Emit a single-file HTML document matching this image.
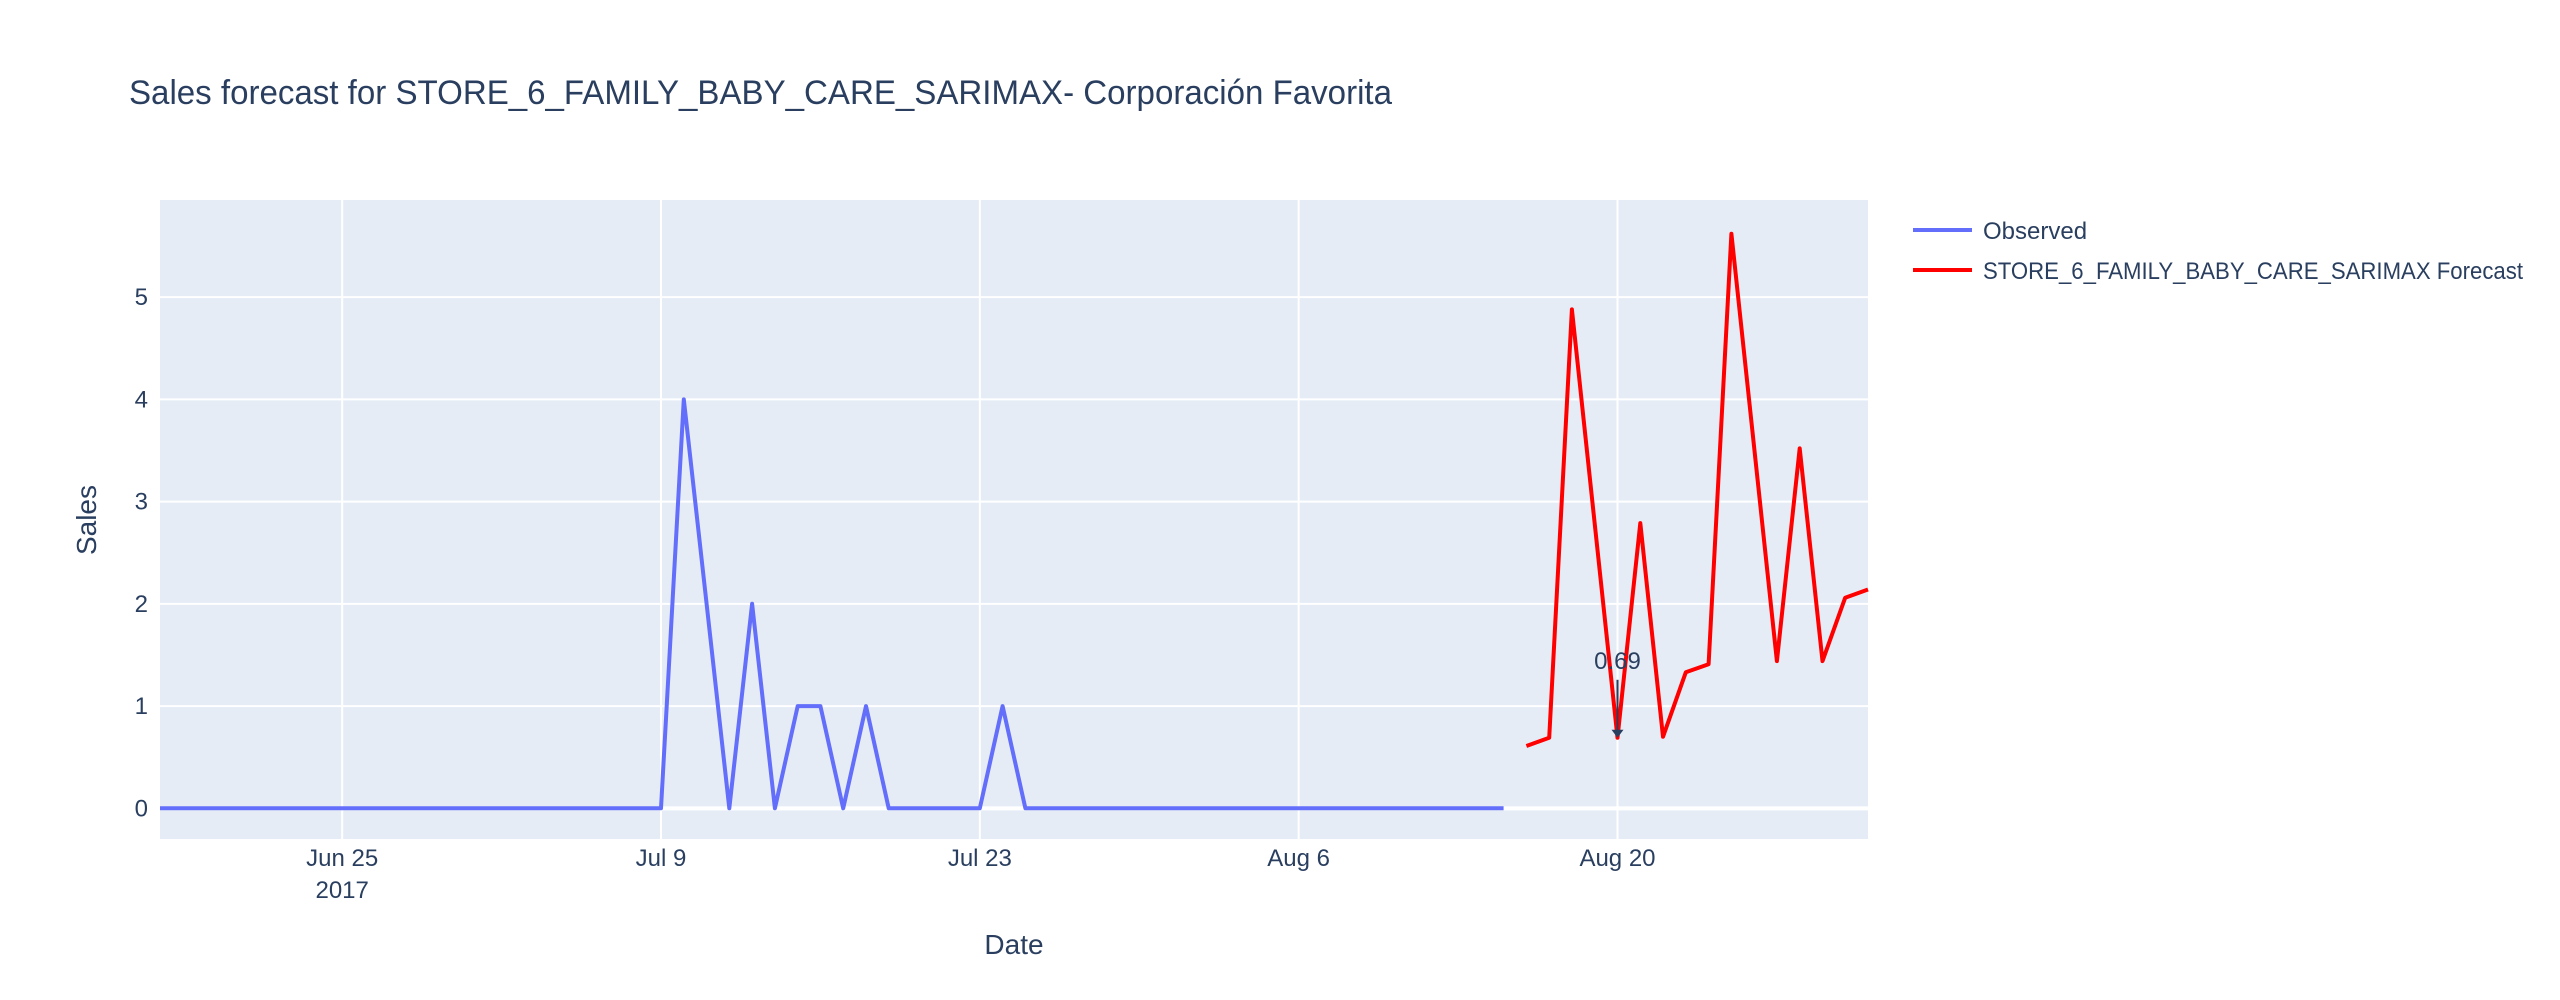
<!DOCTYPE html>
<html><head><meta charset="utf-8"><style>
html,body{margin:0;padding:0;background:#fff;}
svg{display:block;font-family:"Liberation Sans","DejaVu Sans",sans-serif;}
</style></head><body>
<svg id="chart" width="2560" height="1000" viewBox="0 0 2560 1000">
<rect x="0" y="0" width="2560" height="1000" fill="#fff"/>
<text x="129" y="104" font-size="34" fill="#2a3f5f" textLength="1263" lengthAdjust="spacingAndGlyphs">Sales forecast for STORE_6_FAMILY_BABY_CARE_SARIMAX- Corporación Favorita</text>
<rect x="160" y="200" width="1708" height="639" fill="#e5ecf6"/>
<g id="grid"></g>
<g id="series"></g>
<g id="axes"></g>
<text x="1014" y="954" font-size="28" fill="#2a3f5f" text-anchor="middle">Date</text>
<text x="96" y="520" font-size="28" fill="#2a3f5f" text-anchor="middle" transform="rotate(-90 96 520)">Sales</text>
<g>
  <g>
    <line x1="1913" y1="230" x2="1972" y2="230" stroke="#636efa" stroke-width="4"/>
    <text x="1983" y="239" font-size="24" fill="#2a3f5f">Observed</text>
  </g>
  <g>
    <line x1="1913" y1="270" x2="1972" y2="270" stroke="#ff0000" stroke-width="4"/>
    <text x="1983" y="279" font-size="24" fill="#2a3f5f" textLength="540" lengthAdjust="spacingAndGlyphs">STORE_6_FAMILY_BABY_CARE_SARIMAX Forecast</text>
  </g>
</g>
<g id="annot"></g>
</svg>
<script>
// ---- data ----
const observedStart = "2017-06-17";
const observedValues = [0,0,0,0,0,0,0,0,0,0,0,0,0,0,0,0,0,0,0,0,0,0,0,4,2,0,2,0,1,1,0,1,0,0,0,0,0,1,0,0,0,0,0,0,0,0,0,0,0,0,0,0,0,0,0,0,0,0,0,0];
const forecastDates = ["2017-08-16","2017-08-17","2017-08-18","2017-08-20","2017-08-21","2017-08-22","2017-08-23","2017-08-24","2017-08-25","2017-08-27","2017-08-28","2017-08-29","2017-08-30","2017-08-31"];
const forecastValues = [0.61,0.69,4.88,0.69,2.79,0.70,1.33,1.41,5.62,1.44,3.52,1.44,2.06,2.14];
const yTicks = [0,1,2,3,4,5];
const xTickDates = ["2017-06-25","2017-07-09","2017-07-23","2017-08-06","2017-08-20"];
const xTickLabels = ["Jun 25","Jul 9","Jul 23","Aug 6","Aug 20"];
const annotationDate = "2017-08-20";
const annotationValue = 0.69;

// ---- axes ----
const PL=160, PR=1868, PT=200, PB=839;
const DAY=86400000;
const t0=Date.parse("2017-06-17T00:00:00Z"), t1=Date.parse("2017-08-31T00:00:00Z");
const yMin=-0.30, yMax=5.95;
function xs(d){return PL+(Date.parse(d+"T00:00:00Z")-t0)/(t1-t0)*(PR-PL);}
function ys(v){return PB-(v-yMin)/(yMax-yMin)*(PB-PT);}
const NS="http://www.w3.org/2000/svg";
function mk(tag,attrs,parent){const e=document.createElementNS(NS,tag);for(const k in attrs)e.setAttribute(k,attrs[k]);parent.appendChild(e);return e;}
const grid=document.getElementById('grid'), axes=document.getElementById('axes'), series=document.getElementById('series'), annot=document.getElementById('annot');

xTickDates.forEach((d,i)=>{
  const x=xs(d);
  const l=mk('line',{x1:x,x2:x,y1:PT,y2:PB,stroke:'#fff','stroke-width':2},grid);
  
  
  const t=mk('text',{x:x,y:866,'font-size':24,fill:'#2a3f5f','text-anchor':'middle'},axes);
  t.textContent=xTickLabels[i];
  
  
});
const yr=mk('text',{x:xs(xTickDates[0]),y:898,'font-size':24,fill:'#2a3f5f','text-anchor':'middle'},axes);
yr.textContent="2017";



yTicks.forEach(v=>{
  const y=ys(v);
  const l=mk('line',{x1:PL,x2:PR,y1:y,y2:y,stroke:'#fff','stroke-width':v===0?4:2},grid);
  
  
  const t=mk('text',{x:148,y:y+8,'font-size':24,fill:'#2a3f5f','text-anchor':'end'},axes);
  t.textContent=String(v);
  
  
});

const obsStartT=Date.parse(observedStart+"T00:00:00Z");
const obsPts=observedValues.map((v,i)=>{
  const d=new Date(obsStartT+i*DAY).toISOString().slice(0,10);
  return xs(d).toFixed(1)+","+ys(v).toFixed(1);
}).join(" ");
const obs=mk('polyline',{points:obsPts,fill:'none',stroke:'#636efa','stroke-width':4,'stroke-linejoin':'round'},series);



const fcPts=forecastDates.map((d,i)=>xs(d).toFixed(1)+","+ys(forecastValues[i]).toFixed(1)).join(" ");
const fc=mk('polyline',{points:fcPts,fill:'none',stroke:'#ff0000','stroke-width':4,'stroke-linejoin':'round'},series);



// annotation
const ax=xs(annotationDate), ay=ys(annotationValue);
const al=mk('line',{x1:ax,y1:ay-58,x2:ax,y2:ay-6,stroke:'#2a3f5f','stroke-width':2},annot);


const ah=mk('polygon',{points:`${ax-6},${ay-8} ${ax+6},${ay-8} ${ax},${ay}`,fill:'#2a3f5f'},annot);


const at=mk('text',{x:ax,y:ay-69,'font-size':24,fill:'#2a3f5f','text-anchor':'middle'},annot);
at.textContent=annotationValue.toFixed(2);


</script>
</body></html>
